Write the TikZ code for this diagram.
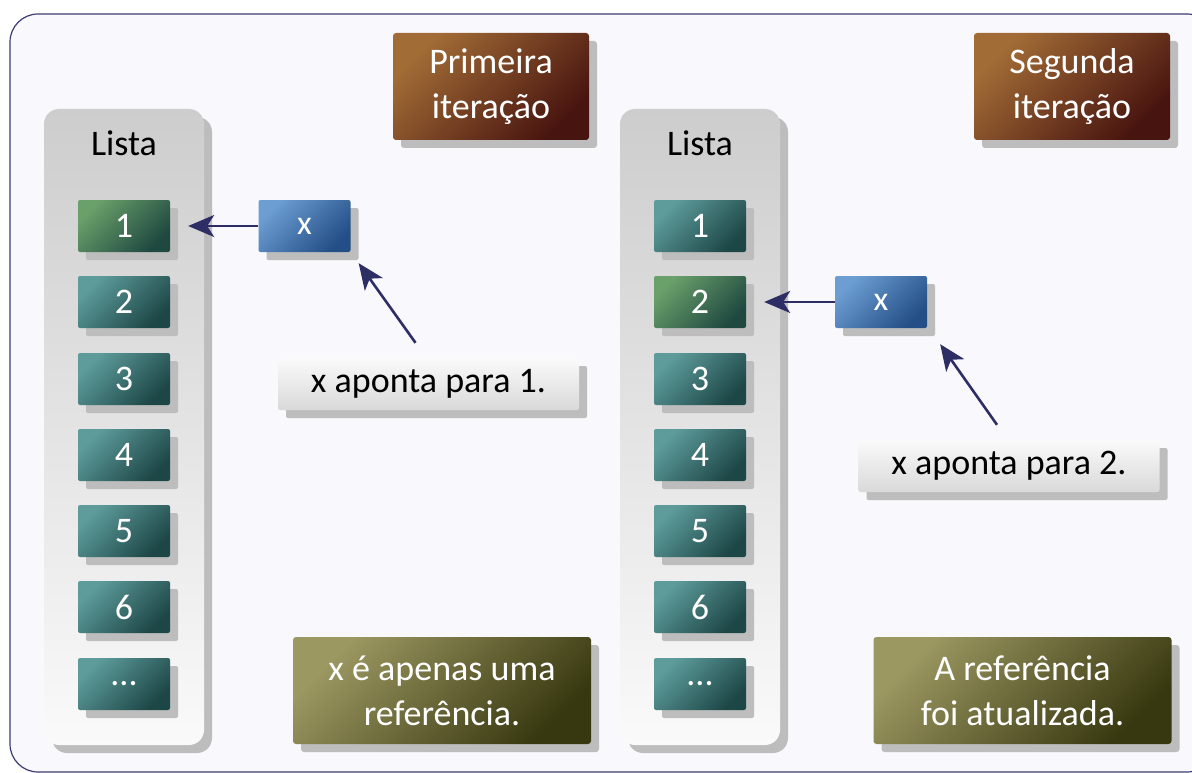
\documentclass[tikz,border=0pt]{standalone}
\usepackage{fontspec}
\setmainfont{Carlito}
\usetikzlibrary{shadows,arrows.meta}
\definecolor{framefill}{HTML}{F8F8FD}
\definecolor{framedraw}{HTML}{3C3C70}
\definecolor{shgray}{HTML}{BDBDBD}
\definecolor{panelTop}{HTML}{CDCDCD}
\definecolor{panelBot}{HTML}{FAFAFA}
\definecolor{tealL}{HTML}{5E9C9C}
\definecolor{tealD}{HTML}{1D4646}
\definecolor{greenL}{HTML}{6AA06A}
\definecolor{greenD}{HTML}{1E4840}
\definecolor{blueL}{HTML}{6C9ED2}
\definecolor{blueD}{HTML}{234E86}
\definecolor{brownL}{HTML}{A26C36}
\definecolor{brownD}{HTML}{48140F}
\definecolor{oliveL}{HTML}{9C9862}
\definecolor{oliveD}{HTML}{383810}
\definecolor{labTop}{HTML}{FAFAFA}
\definecolor{labBot}{HTML}{D9D9D9}
\definecolor{arrowc}{HTML}{2E2E66}
\tikzset{
  shd/.style={drop shadow={shadow xshift=8pt, shadow yshift=-8pt, fill=shgray, opacity=1}},
  diag/.style 2 args={top color=#1, bottom color=#2, shading angle=45},
  itembox/.style={shd, rounded corners=2pt, minimum width=92pt, minimum height=52pt,
     text=white, font=\fontsize{36}{42}\selectfont, inner sep=0pt},
  tealitem/.style={itembox, diag={tealL}{tealD}},
  greenitem/.style={itembox, diag={greenL}{greenD}},
  xbox/.style={itembox, diag={blueL}{blueD}, font=\fontsize{34}{40}\selectfont},
  panelbox/.style={shd, rounded corners=15pt, minimum width=160pt, minimum height=636pt,
     top color=panelTop, bottom color=panelBot, inner sep=0pt},
  headbox/.style={shd, rounded corners=3pt, minimum width=196pt, minimum height=107pt,
     text=white, align=center, font=\fontsize{36}{45}\selectfont, diag={brownL}{brownD}},
  notebox/.style={shd, rounded corners=3pt, minimum width=298pt, minimum height=107pt,
     text=white, align=center, font=\fontsize{36}{45}\selectfont, diag={oliveL}{oliveD}},
  labbox/.style={shd, rounded corners=2pt, minimum width=301pt, minimum height=52pt,
     top color=labTop, bottom color=labBot, text=black, font=\fontsize{36}{42}\selectfont, inner sep=0pt},
  listtitle/.style={font=\fontsize{36}{42}\selectfont, text=black},
  ptr/.style={draw=arrowc, line width=2.6pt, -{Stealth[length=26pt, width=22pt, inset=7pt]}}
}
\begin{document}
\begin{tikzpicture}[x=1pt,y=-1pt]
\useasboundingbox (0,0) rectangle (1192,773);
\clip (0,0) rectangle (1192,773);
\fill[white] (0,0) rectangle (1192,773);
\draw[framedraw, fill=framefill, line width=1.2pt, rounded corners=28pt] (10,14) rectangle (1215,772);

% left list
\node[panelbox] (p1) at (124,427) {};
\node[listtitle] (t1) at (124,143) {Lista};
\node[greenitem] (a1) at (124,226) {1};
\node[tealitem] (a2) at (124,302) {2};
\node[tealitem] (a3) at (124,379) {3};
\node[tealitem] (a4) at (124,455) {4};
\node[tealitem] (a5) at (124,531) {5};
\node[tealitem] (a6) at (124,607) {6};
\node[tealitem] (a7) at (124,684) {...};

% right list
\node[panelbox] (p2) at (700,427) {};
\node[listtitle] (t2) at (700,143) {Lista};
\node[tealitem] (b1) at (700,226) {1};
\node[greenitem] (b2) at (700,302) {2};
\node[tealitem] (b3) at (700,379) {3};
\node[tealitem] (b4) at (700,455) {4};
\node[tealitem] (b5) at (700,531) {5};
\node[tealitem] (b6) at (700,607) {6};
\node[tealitem] (b7) at (700,684) {...};

% headers
\node[headbox] (h1) at (491,86.5) {Primeira\\iteração};
\node[headbox] (h2) at (1072,86.5) {Segunda\\iteração};

% x boxes
\node[xbox] (x1) at (304.5,226) {x};
\node[xbox] (x2) at (881,302) {x};

% labels
\node[labbox] (l1) at (428.5,384) {x aponta para 1.};
\node[labbox] (l2) at (1009,466) {x aponta para 2.};

% notes
\node[notebox] (n1) at (442,690.5) {x é apenas uma\\referência.};
\node[notebox] (n2) at (1022.5,690.5) {A referência\\foi atualizada.};

% arrows
\draw[ptr, shorten >=18pt] (x1.west) -- (a1.east);
\draw[ptr, shorten >=18pt] (x2.west) -- (b2.east);
\draw[ptr] ([xshift=-13pt,yshift=15pt]l1.north) -- ([xshift=8pt,yshift=-11pt]x1.south east);
\draw[ptr] ([xshift=-12pt,yshift=15pt]l2.north) -- ([xshift=13pt,yshift=-16pt]x2.south east);
\end{tikzpicture}
\end{document}
